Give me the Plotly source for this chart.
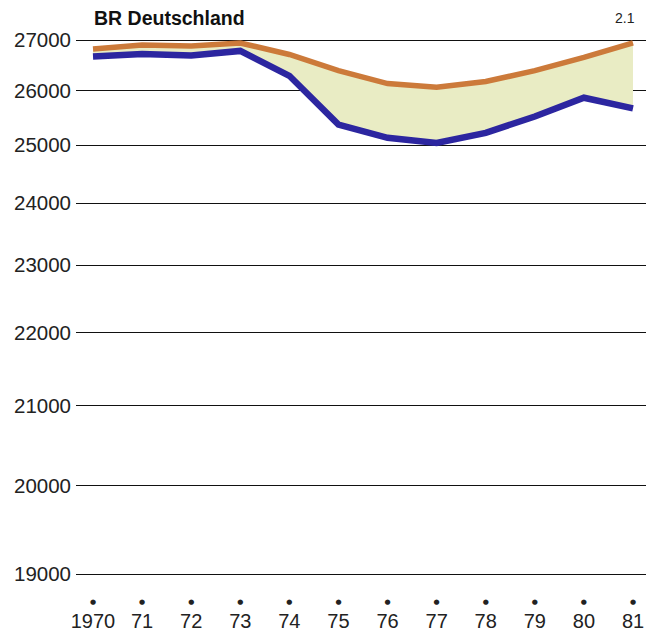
import numpy as np
import plotly.graph_objects as go

years = [1970, 1971, 1972, 1973, 1974, 1975, 1976, 1977, 1978, 1979, 1980, 1981]
year_labels = ["1970", "71", "72", "73", "74", "75", "76", "77", "78", "79", "80", "81"]
upper = [26820, 26900, 26880, 26940, 26710, 26390, 26140, 26070, 26180, 26390, 26650, 26940]
lower = [26670, 26720, 26690, 26780, 26290, 25370, 25130, 25040, 25220, 25520, 25870, 25670]
grid_values = [19000, 20000, 21000, 22000, 23000, 24000, 25000, 26000, 27000]

# the value axis is logarithmic above a shifted origin
offset = 10000

# page body has an 8px margin, so the figure is drawn 8px smaller
W, H = 646, 628
L, R, T, B = 68, 0, 22, 46
FONT = "Liberation Sans, Arial, sans-serif"

# pixel placement of the scale inside the figure
top_px, bot_px = 32, 566
lo = np.log10(min(grid_values) - offset)
hi = np.log10(max(grid_values) - offset)
k = (bot_px - top_px) / (hi - lo)
yrange = [lo - (H - B - bot_px) / k, hi + (top_px - T) / k]

px_per_year = (625 - 85) / 11
xrange = [1970 - (85 - L) / px_per_year, 1981 + (W - 625) / px_per_year]

lo_y = [v - offset for v in lower]
up_y = [v - offset for v in upper]

fig = go.Figure()
fig.add_trace(go.Scatter(x=years, y=lo_y, mode="lines", line=dict(width=0),
                         hoverinfo="skip", showlegend=False))
fig.add_trace(go.Scatter(x=years, y=up_y, mode="lines", line=dict(width=0),
                         fill="tonexty", fillcolor="rgb(233,236,196)",
                         hoverinfo="skip", showlegend=False))
fig.add_trace(go.Scatter(x=years, y=lo_y, mode="lines",
                         line=dict(color="rgb(44,38,160)", width=6.5),
                         showlegend=False))
fig.add_trace(go.Scatter(x=years, y=up_y, mode="lines",
                         line=dict(color="rgb(204,122,58)", width=5.5),
                         showlegend=False))
# carrier for the year-label axis
fig.add_trace(go.Scatter(x=years, y=lo_y, xaxis="x2", mode="none",
                         hoverinfo="skip", showlegend=False))

fig.update_layout(
    width=W, height=H,
    margin=dict(l=L, r=R, t=T, b=B),
    paper_bgcolor="white", plot_bgcolor="white",
    font=dict(family=FONT, color="#222"),
    xaxis=dict(range=xrange, tickvals=years, ticktext=["●"] * len(years),
               tickfont=dict(family="DejaVu Sans", size=7, color="#222"),
               showgrid=False, zeroline=False, showline=False, ticks="",
               ticklabelstandoff=6),
    xaxis2=dict(range=xrange, overlaying="x", anchor="y", side="bottom",
                tickvals=years, ticktext=year_labels,
                tickfont=dict(size=20, color="#222"), showgrid=False,
                zeroline=False, showline=False, ticks="", ticklabelstandoff=17),
    yaxis=dict(type="log", range=yrange,
               tickvals=[g - offset for g in grid_values],
               ticktext=[str(g) for g in grid_values],
               tickfont=dict(size=20.5, color="#222"),
               showgrid=True, gridcolor="#111", gridwidth=1.4,
               zeroline=False, showline=False, ticks="", ticklabelstandoff=4),
    annotations=[
        dict(text="<b>BR Deutschland</b>", xref="paper", yref="paper",
             x=(84 - L) / (W - L - R), y=1, xanchor="left", yanchor="middle",
             yshift=12, showarrow=False, font=dict(size=19.5, color="#111")),
        dict(text="2.1", xref="paper", yref="paper",
             x=(629 - L) / (W - L - R), y=1, xanchor="right", yanchor="middle",
             yshift=12, showarrow=False, font=dict(size=14, color="#222")),
    ],
)

fig.write_html("out.html")
